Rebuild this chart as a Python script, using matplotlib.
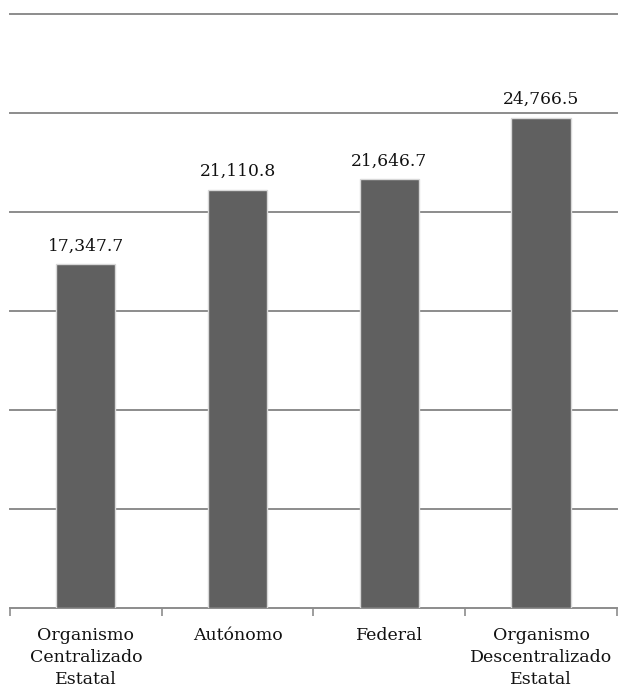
import numpy as np
import matplotlib.pyplot as plt

# Data
categories = ["Organismo\nCentralizado\nEstatal", "Autónomo", "Federal",
              "Organismo\nDescentralizado\nEstatal"]
values = [17347.7, 21110.8, 21646.7, 24766.5]
value_labels = ["17,347.7", "21,110.8", "21,646.7", "24,766.5"]
grid_values = [5000, 10000, 15000, 20000, 25000, 30000]

plt.rcParams['font.family'] = ['DejaVu Serif']

fig = plt.figure(figsize=(6.25, 6.92), dpi=100)
ax = fig.add_axes([0.016, 0.1214, 0.971, 0.8584])

x = np.arange(len(categories))
bars = ax.bar(x, values, width=0.39, color='#606060', edgecolor='#d8d8d8',
              linewidth=1.0, zorder=3)

# horizontal gridlines
for g in grid_values:
    ax.axhline(g, color='#8c8c8c', lw=1.4, zorder=1, clip_on=False)

# value labels above bars
for xi, v, lab in zip(x, values, value_labels):
    ax.annotate(lab, (xi, v), xytext=(0, 7), textcoords='offset points',
                ha='center', va='bottom', fontsize=12.3, color='#111111')

ax.set_xlim(-0.5, len(categories) - 0.5)
ax.set_ylim(0, 30000)

for s in ['top', 'right', 'left']:
    ax.spines[s].set_visible(False)
ax.spines['bottom'].set_color('#8c8c8c')
ax.spines['bottom'].set_linewidth(1.4)

ax.set_yticks([])
# category tick marks sit between bars
ax.set_xticks(np.arange(len(categories) + 1) - 0.5)
ax.set_xticklabels([])
ax.tick_params(axis='x', length=6, width=1.2, color='#8c8c8c')
ax.set_xticks(x, minor=True)
ax.set_xticklabels(categories, minor=True, fontsize=12.5, color='#111111',
                   linespacing=1.35)
ax.tick_params(axis='x', which='minor', length=0, pad=14)

fig.savefig("out.png", dpi=100)
